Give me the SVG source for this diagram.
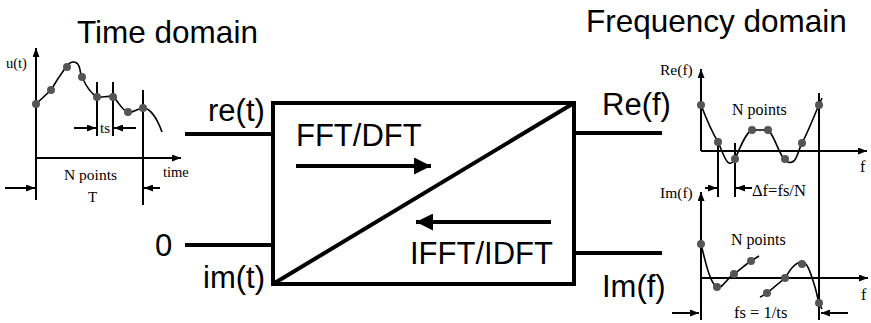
<svg xmlns="http://www.w3.org/2000/svg" width="871" height="323" viewBox="0 0 871 323">
<style>
.big{font-family:"Liberation Sans",Arial,sans-serif;font-size:31px;fill:#000}
.sm{font-family:"Liberation Serif","Times New Roman",serif;font-size:15px;fill:#000}
.thick{stroke:#000;stroke-width:4;fill:none}
.thin{stroke:#000;stroke-width:2;fill:none}
.crv{stroke:#000;stroke-width:1.6;fill:none}
.dot{fill:#555}
</style>
<defs>
<marker id="ah" viewBox="0 0 10 10" refX="10" refY="5" markerUnits="userSpaceOnUse" markerWidth="9" markerHeight="7" preserveAspectRatio="none" orient="auto"><path d="M0,0 L10,5 L0,10 z" fill="#000"/></marker>
<marker id="bh" viewBox="0 0 10 10" refX="10" refY="5" markerUnits="userSpaceOnUse" markerWidth="17" markerHeight="17" preserveAspectRatio="none" orient="auto"><path d="M0,0 L10,5 L0,10 z" fill="#000"/></marker>
</defs>
<rect width="871" height="323" fill="#fff"/>

<text class="big" x="77" y="43" style="font-size:31.5px">Time domain</text>
<text class="big" x="586" y="32" style="font-size:31.5px">Frequency domain</text>

<g id="time-graph">
<line class="thin" x1="36" y1="200" x2="36" y2="48" marker-end="url(#ah)"/>
<line class="thin" x1="36" y1="158" x2="181" y2="158" marker-end="url(#ah)"/>
<text class="sm" x="6" y="68" style="font-size:14.5px">u(t)</text>
<text class="sm" x="163" y="177" style="font-size:14.5px">time</text>
<text class="sm" x="64" y="180" style="font-size:15.5px">N points</text>
<text class="sm" x="88" y="202">T</text>
<line class="thin" x1="143" y1="90" x2="143" y2="205"/>
<line class="thin" x1="97" y1="82" x2="97" y2="136"/>
<line class="thin" x1="113" y1="82" x2="113" y2="136"/>
<line class="thin" x1="74" y1="128" x2="96" y2="128" marker-end="url(#ah)"/>
<line class="thin" x1="136" y1="128" x2="114" y2="128" marker-end="url(#ah)"/>
<text class="sm" x="100" y="133">ts</text>
<line class="thin" x1="5" y1="188" x2="35" y2="188" marker-end="url(#ah)"/>
<line class="thin" x1="160" y1="188" x2="144" y2="188" marker-end="url(#ah)"/>
<path class="crv" d="M36,104 L51,90 Q58,78 66,67 C70,61 76,60 79,66 C81,72 80,74 82,77 C86,86 90,93 97,97 C103,98 108,95 113,97 C118,100 121,110 128,112 C134,113 138,108 143,108 C150,108 157,118 162,132"/>
<g class="dot">
<circle cx="36" cy="104" r="4"/><circle cx="51" cy="90" r="4"/><circle cx="67" cy="67" r="4"/><circle cx="82" cy="77" r="4"/><circle cx="97" cy="97" r="4"/><circle cx="113" cy="97" r="4"/><circle cx="128" cy="112" r="4"/><circle cx="143" cy="108" r="4"/>
</g>
</g>

<g id="connectors">
<line class="thick" x1="185" y1="134" x2="273" y2="134"/>
<line class="thick" x1="185" y1="245" x2="273" y2="245"/>
<line class="thick" x1="574" y1="133" x2="662" y2="133"/>
<line class="thick" x1="574" y1="253" x2="662" y2="253"/>
</g>

<g id="labels">
<text class="big" x="208" y="121">re(t)</text>
<text class="big" x="155" y="256">0</text>
<text class="big" x="203" y="288">im(t)</text>
<text class="big" x="602" y="115">Re(f)</text>
<text class="big" x="602" y="297">Im(f)</text>
</g>

<g id="transform">
<rect class="thick" x="273" y="103" width="301" height="181" fill="#fff"/>
<line class="thick" x1="273" y1="284" x2="574" y2="103"/>
<text class="big" x="296" y="146">FFT/DFT</text>
<line class="thick" x1="296" y1="166" x2="431" y2="166" marker-end="url(#bh)"/>
<line class="thick" x1="551" y1="222" x2="416" y2="222" marker-end="url(#bh)"/>
<text class="big" x="410" y="264">IFFT/IDFT</text>
</g>

<g id="freq-graph">
<line class="thin" x1="701" y1="151" x2="701" y2="69" marker-end="url(#ah)"/>
<line class="thin" x1="701" y1="151" x2="867" y2="151" marker-end="url(#ah)"/>
<text class="sm" x="660" y="75" style="font-size:15.5px">Re(f)</text>
<text class="sm" x="860" y="172" style="font-size:16px">f</text>
<text class="sm" x="732" y="115" style="font-size:16px">N points</text>
<line class="thin" x1="718" y1="138" x2="718" y2="197"/>
<line class="thin" x1="735" y1="143" x2="735" y2="197"/>
<line class="thin" x1="819" y1="93" x2="819" y2="320"/>
<line class="thin" x1="705" y1="188" x2="717" y2="188" marker-end="url(#ah)"/>
<line class="thin" x1="752" y1="188" x2="736" y2="188" marker-end="url(#ah)"/>
<text class="sm" x="752" y="196" style="font-size:16.5px">Δf=fs/N</text>
<path class="crv" d="M701,105 C706,118 712,132 718,142 C722,150 725,162 729,163 C732,164 734,161 735,159 C740,148 746,132 752,130 L768,130 C774,134 779,155 785,160 C789,164 794,163 796,158 C799,152 800,146 802,143 C808,132 814,116 819,105 L822,98"/>
<g class="dot">
<circle cx="701" cy="105" r="4"/><circle cx="718" cy="142" r="4"/><circle cx="735" cy="159" r="4"/><circle cx="752" cy="130" r="4"/><circle cx="768" cy="130" r="4"/><circle cx="785" cy="159" r="4"/><circle cx="802" cy="143" r="4"/><circle cx="819" cy="105" r="4"/>
</g>

<line class="thin" x1="701" y1="320" x2="701" y2="192" marker-end="url(#ah)"/>
<line class="thin" x1="701" y1="278" x2="868" y2="278" marker-end="url(#ah)"/>
<text class="sm" x="660" y="198" style="font-size:15.5px">Im(f)</text>
<text class="sm" x="861" y="300" style="font-size:16px">f</text>
<text class="sm" x="731" y="245" style="font-size:16px">N points</text>
<text class="sm" x="734" y="318" style="font-size:16.5px">fs = 1/ts</text>
<line class="thin" x1="672" y1="313" x2="699" y2="313" marker-end="url(#ah)"/>
<line class="thin" x1="848" y1="313" x2="821" y2="313" marker-end="url(#ah)"/>
<path class="crv" d="M701,244 C705,260 710,284 717,287 C722,290 727,278 734,274 C740,270 746,264 751,261 L759,256"/>
<path class="crv" d="M760,297 C763,296 765,294 767,293 L785,278 C790,270 795,262 802,262 C808,262 811,275 815,287 C817,294 818,300 819,303 L822,309"/>
<g class="dot">
<circle cx="701" cy="244" r="4"/><circle cx="717" cy="287" r="4"/><circle cx="734" cy="274" r="4"/><circle cx="751" cy="261" r="4"/><circle cx="767" cy="293" r="4"/><circle cx="785" cy="278" r="4"/><circle cx="802" cy="264" r="4"/><circle cx="819" cy="303" r="4"/>
</g>
</g>
</svg>
